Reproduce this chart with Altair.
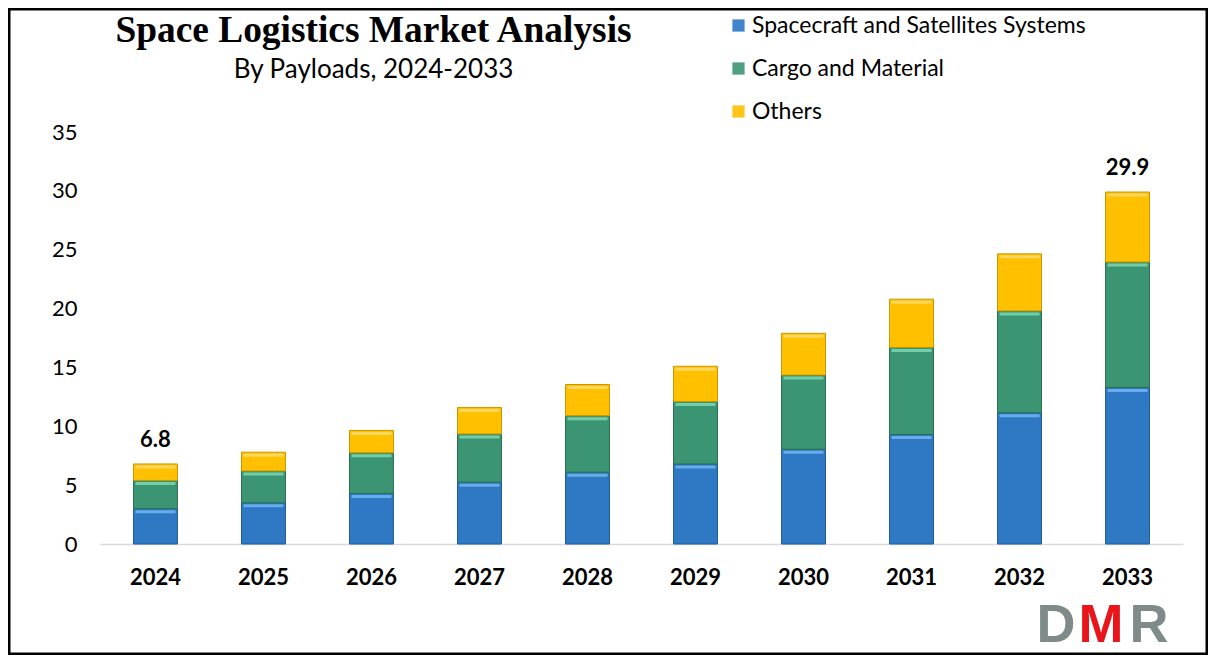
import altair as alt
import pandas as pd

# ---- data ----
years = ["2024", "2025", "2026", "2027", "2028", "2029", "2030", "2031", "2032", "2033"]
series = ["Spacecraft and Satellites Systems", "Cargo and Material", "Others"]
spacecraft = [3.0, 3.5, 4.3, 5.25, 6.1, 6.8, 8.05, 9.3, 11.15, 13.3]
cargo = [2.4, 2.7, 3.45, 4.1, 4.8, 5.3, 6.3, 7.4, 8.65, 10.65]
others = [1.4, 1.6, 1.9, 2.25, 2.65, 3.0, 3.55, 4.1, 4.85, 5.95]
label_years = ["2024", "2033"]
label_values = [6.8, 29.9]
y_ticks = [0, 5, 10, 15, 20, 25, 30, 35]

colors = ["#2F78C4", "#3C9572", "#FFC000"]
light = ["#6CB2F0", "#77D4AE", "#FFD966"]
dark = ["#1F5C9A", "#2A6E53", "#C99700"]

FONT = "Lato"

rows = []
for i, y in enumerate(years):
    base = 0.0
    for k, vals in enumerate([spacecraft, cargo, others]):
        v = vals[i]
        rows.append({"year": y, "series": series[k], "start": base, "end": base + v,
                     "value": v, "light": light[k], "dark": dark[k], "order": k})
        base += v
df = pd.DataFrame(rows)
df_labels = pd.DataFrame({"year": label_years, "total": label_values,
                          "text": [f"{v:.1f}" for v in label_values]})
one = pd.DataFrame({"d": [0]})

x_enc = alt.X("year:N", sort=years,
              scale=alt.Scale(domain=years, paddingInner=0.593, paddingOuter=0.31),
              axis=alt.Axis(title=None, labelAngle=0, labelFont=FONT, labelFontSize=22,
                            labelFontWeight="bold", labelColor="#000000", labelPadding=23,
                            ticks=False, domainColor="#D9D9D9", domainWidth=1.5))
y_scale = alt.Scale(domain=[0, 35], nice=False)

bars = alt.Chart(df).mark_bar(strokeWidth=1).encode(
    x=x_enc,
    y=alt.Y("end:Q", scale=y_scale,
            axis=alt.Axis(title=None, values=y_ticks, grid=False, domain=False, ticks=False,
                          labelFont=FONT, labelFontSize=22, labelColor="#000000",
                          labelPadding=23)),
    y2="start:Q",
    color=alt.Color("series:N", scale=alt.Scale(domain=series, range=colors),
                    legend=alt.Legend(title=None, orient="none", legendX=627, legendY=-118,
                                      symbolType="square", symbolSize=150,
                                      symbolStrokeWidth=0, labelFont=FONT,
                                      labelFontSize=23, labelColor="#000000",
                                      labelLimit=0, labelOffset=2, rowPadding=19,
                                      padding=0)),
    stroke=alt.Stroke("dark:N", scale=None),
    order=alt.Order("order:Q"),
)

highlight = alt.Chart(df).mark_tick(thickness=3, size=40, yOffset=3, opacity=0.9).encode(
    x=alt.X("year:N", sort=years),
    y=alt.Y("end:Q", scale=y_scale),
    color=alt.Color("light:N", scale=None),
)

labels = alt.Chart(df_labels).mark_text(dy=-17, baseline="alphabetic", font=FONT,
                                        fontSize=22, fontWeight="bold",
                                        color="#000000").encode(
    x=alt.X("year:N", sort=years),
    y=alt.Y("total:Q", scale=y_scale),
    text="text:N",
)

title = alt.Chart(one).mark_text(font="Liberation Serif", fontSize=37.4, fontWeight="bold",
                                 align="center", baseline="alphabetic",
                                 color="#000000").encode(
    x=alt.value(273.5), y=alt.value(-90),
    text=alt.value("Space Logistics Market Analysis"))

subtitle = alt.Chart(one).mark_text(font=FONT, fontSize=26, align="center",
                                    baseline="alphabetic", color="#000000").encode(
    x=alt.value(273.5), y=alt.value(-54), text=alt.value("By Payloads, 2024-2033"))

logo_style = dict(font="Liberation Sans", fontSize=54, fontWeight="bold",
                  align="center", baseline="alphabetic")
logo_d = alt.Chart(one).mark_text(color="#7F8A8A", **logo_style).encode(
    x=alt.value(956), y=alt.value(510), text=alt.value("D"))
logo_m = alt.Chart(one).mark_text(color="#E8161B", **logo_style).encode(
    x=alt.value(1001), y=alt.value(510), text=alt.value("M"))
logo_r = alt.Chart(one).mark_text(color="#7F8A8A", **logo_style).encode(
    x=alt.value(1049), y=alt.value(510), text=alt.value("R"))

border = alt.Chart(one).mark_rect(fill=None, stroke="#000000", strokeWidth=2.5).encode(
    x=alt.value(-90.75), x2=alt.value(1106.75), y=alt.value(-122.75), y2=alt.value(521.75))

chart = alt.layer(bars, highlight, labels, title, subtitle, logo_d, logo_m, logo_r,
                  border).properties(
    width=1083, height=412,
    padding={"left": 92, "top": 124, "right": 25, "bottom": 111},
    autosize=alt.AutoSizeParams(type="none"),
    background="#FFFFFF",
).configure_view(stroke=None)

chart.save("out.html", embed_options={"renderer": "svg", "actions": False})
